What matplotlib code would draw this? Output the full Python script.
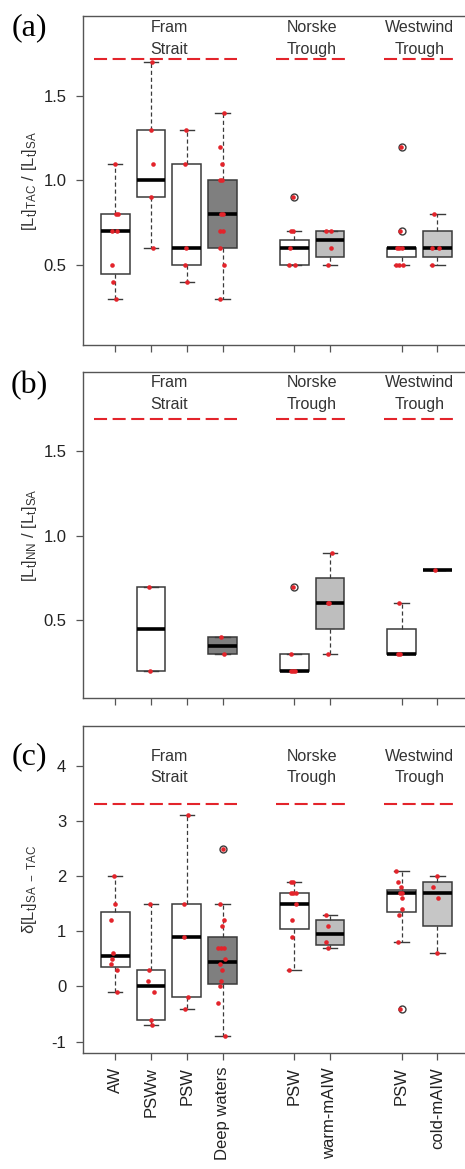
import numpy as np
import matplotlib.pyplot as plt

plt.rcParams['font.family'] = ['Liberation Sans', 'DejaVu Sans']
plt.rcParams['mathtext.fontset'] = 'custom'
plt.rcParams['mathtext.rm'] = 'Liberation Sans'
plt.rcParams['mathtext.it'] = 'Liberation Sans:italic'
plt.rcParams['mathtext.bf'] = 'Liberation Sans:bold'
plt.rcParams['lines.scale_dashes'] = False

positions = [1, 2, 3, 4, 6, 7, 9, 10]
water_masses = ['AW', 'PSWw', 'PSW', 'Deep waters', 'PSW', 'warm-mAIW', 'PSW', 'cold-mAIW']
box_fill = ['white', 'white', 'white', '#7f7f7f', 'white', '#bebebe', 'white', '#c6c6c6']
regions = ['Fram\nStrait', 'Norske\nTrough', 'Westwind\nTrough']
region_centres = [2.5, 6.5, 9.5]
region_spans = [(0.4, 4.4), (5.5, 7.5), (8.5, 10.5)]

# (whislo, q1, median, q3, whishi) per water mass
tac_stats = [(0.3, 0.45, 0.7, 0.8, 1.1), (0.6, 0.9, 1.0, 1.3, 1.7),
             (0.4, 0.5, 0.6, 1.1, 1.3), (0.3, 0.6, 0.8, 1.0, 1.4),
             (0.5, 0.5, 0.6, 0.65, 0.7), (0.5, 0.55, 0.65, 0.7, 0.7),
             (0.5, 0.55, 0.6, 0.6, 0.6), (0.5, 0.55, 0.6, 0.7, 0.8)]
tac_fliers = [[], [], [], [], [0.9], [], [0.7, 1.2], []]
tac_points = [[1.1, 0.8, 0.8, 0.7, 0.7, 0.5, 0.4, 0.3],
              [1.7, 1.3, 1.1, 0.9, 0.6],
              [1.3, 1.1, 0.6, 0.5, 0.4],
              [1.4, 1.2, 1.1, 1.0, 1.0, 0.8, 0.8, 0.7, 0.7, 0.6, 0.5, 0.3],
              [0.9, 0.7, 0.7, 0.6, 0.5, 0.5],
              [0.7, 0.7, 0.6, 0.5],
              [1.2, 0.7, 0.6, 0.6, 0.6, 0.5, 0.5, 0.5],
              [0.8, 0.6, 0.6, 0.5]]
tac_jitter = [[0.0, 0.03, 0.08, -0.09, 0.05, -0.09, -0.06, 0.03],
              [0.02, 0.0, 0.05, 0.0, 0.05],
              [-0.01, -0.06, -0.03, -0.04, 0.01],
              [0.03, -0.08, -0.01, -0.08, -0.01, -0.05, 0.02, -0.08, 0.02, -0.06, 0.03, -0.08],
              [-0.02, -0.09, -0.03, -0.12, -0.14, 0.03],
              [-0.12, 0.02, 0.02, -0.05],
              [-0.03, -0.05, -0.13, -0.08, 0.0, -0.17, -0.06, 0.03],
              [-0.09, -0.16, 0.05, -0.16]]

nn_stats = [None, (0.2, 0.2, 0.45, 0.7, 0.7), None, (0.3, 0.3, 0.35, 0.4, 0.4),
            (0.2, 0.2, 0.2, 0.3, 0.3), (0.3, 0.45, 0.6, 0.75, 0.9),
            (0.3, 0.3, 0.3, 0.45, 0.6), (0.8, 0.8, 0.8, 0.8, 0.8)]
nn_fliers = [[], [], [], [], [0.7], [], [], []]
nn_points = [[], [0.7, 0.2], [], [0.4, 0.3], [0.7, 0.3, 0.2, 0.2, 0.2],
             [0.9, 0.6, 0.6, 0.3], [0.6, 0.3, 0.3], [0.8]]
nn_jitter = [[], [-0.06, -0.03], [], [-0.04, 0.03], [-0.03, -0.09, -0.09, -0.03, 0.03],
             [0.05, -0.06, -0.04, -0.06], [-0.08, -0.1, -0.05], [-0.08]]

delta_stats = [(-0.1, 0.35, 0.55, 1.35, 2.0), (-0.7, -0.6, 0.0, 0.3, 1.5),
               (-0.4, -0.2, 0.9, 1.5, 3.1), (-0.9, 0.05, 0.45, 0.9, 1.5),
               (0.3, 1.05, 1.5, 1.7, 1.9), (0.7, 0.75, 0.95, 1.2, 1.3),
               (0.8, 1.35, 1.7, 1.75, 2.1), (0.6, 1.1, 1.7, 1.9, 2.0)]
delta_fliers = [[], [], [], [2.5], [], [], [-0.4], []]
delta_points = [[2.0, 1.5, 1.2, 0.6, 0.5, 0.4, 0.3, -0.1],
                [1.5, 0.3, 0.1, -0.1, -0.6, -0.7],
                [3.1, 1.5, 0.9, -0.2, -0.4],
                [2.5, 1.5, 1.2, 1.1, 0.7, 0.7, 0.7, 0.5, 0.4, 0.3, 0.1, 0.0, -0.3, -0.9],
                [1.9, 1.9, 1.7, 1.7, 1.7, 1.5, 1.2, 0.9, 0.3],
                [1.3, 1.1, 0.8, 0.7],
                [2.1, 1.9, 1.8, 1.7, 1.7, 1.6, 1.4, 1.3, 0.8, -0.4],
                [2.0, 1.8, 1.6, 0.6]]
delta_jitter = [[-0.03, 0.0, -0.11, -0.06, -0.09, -0.11, 0.05, 0.06],
                [-0.03, -0.05, -0.09, 0.08, 0.0, 0.04],
                [0.02, -0.07, -0.07, 0.02, -0.06],
                [0.01, -0.06, 0.05, -0.01, -0.14, -0.04, 0.05, 0.08, -0.08, -0.03, -0.04, -0.08, -0.13, 0.07],
                [-0.09, -0.02, -0.09, -0.03, 0.05, 0.05, -0.06, -0.06, -0.14],
                [-0.12, -0.05, -0.1, -0.06],
                [-0.15, -0.1, -0.02, -0.05, 0.01, 0.0, 0.0, -0.08, -0.1, -0.04],
                [-0.02, -0.13, 0.03, -0.02]]

ref_levels = [1.72, 1.69, 3.3]

RED = '#e3242b'
EDGE = '#3a3a3a'
AXC = '#555555'


def draw_panel(ax, stats, fliers, points, jitter, ref, label_y):
    keep = [i for i, s in enumerate(stats) if s is not None]
    bstats = [dict(whislo=stats[i][0], q1=stats[i][1], med=stats[i][2],
                   q3=stats[i][3], whishi=stats[i][4], fliers=fliers[i]) for i in keep]
    art = ax.bxp(bstats, positions=[positions[i] for i in keep], widths=0.8,
                 capwidths=0.4, patch_artist=True,
                 boxprops=dict(edgecolor=EDGE, linewidth=1.1),
                 medianprops=dict(color='black', linewidth=2.6, solid_capstyle='butt'),
                 whiskerprops=dict(color=EDGE, linewidth=0.9, linestyle=(0, (3, 2))),
                 capprops=dict(color=EDGE, linewidth=1.0),
                 flierprops=dict(marker='o', markerfacecolor='none',
                                 markeredgecolor=EDGE, markersize=5, markeredgewidth=1.0))
    for patch, i in zip(art['boxes'], keep):
        patch.set_facecolor(box_fill[i])

    for p, vals, jit in zip(positions, points, jitter):
        if vals:
            ax.plot(np.array(jit) + p, vals, 'o', color=RED, markersize=3.3,
                    markeredgewidth=0, zorder=4)

    for (x0, x1) in region_spans:
        ax.plot([x0, x1], [ref, ref], color=RED, linewidth=1.5,
                linestyle=(0, (9.4, 4.0)), zorder=3)
    for name, xc in zip(regions, region_centres):
        ax.text(xc, label_y, name, ha='center', va='center', fontsize=11.5,
                linespacing=1.55, color='#333333')

    ax.set_xlim(0.1, 10.9)
    ax.set_xticks(positions)
    ax.spines['right'].set_visible(False)
    for s in ['left', 'top', 'bottom']:
        ax.spines[s].set_color(AXC)
        ax.spines[s].set_linewidth(1.0)
    ax.tick_params(axis='both', direction='out', length=5, width=0.9,
                   color=AXC, labelsize=12, labelcolor='#222222')
    ax.tick_params(axis='y', pad=7)
    ax.tick_params(axis='x', pad=5)


fig = plt.figure(figsize=(4.65, 11.69), dpi=100)
left = 83 / 465
width = (469.6 - 83) / 465
ax_a = fig.add_axes([left, 1 - 345 / 1169, width, 329 / 1169])
ax_b = fig.add_axes([left, 1 - 698 / 1169, width, 326 / 1169])
ax_c = fig.add_axes([left, 1 - 1053 / 1169, width, 327 / 1169])

draw_panel(ax_a, tac_stats, tac_fliers, tac_points, tac_jitter, ref_levels[0], 1.84)
draw_panel(ax_b, nn_stats, nn_fliers, nn_points, nn_jitter, ref_levels[1], 1.84)
draw_panel(ax_c, delta_stats, delta_fliers, delta_points, delta_jitter, ref_levels[2], 3.98)

ax_a.set_ylim(0.028, 1.972)
ax_b.set_ylim(0.042, 1.966)
ax_c.set_ylim(-1.206, 4.72)
for ax in (ax_a, ax_b):
    ax.set_yticks([0.5, 1.0, 1.5], ['0.5', '1.0', '1.5'])
    ax.set_xticklabels([])
ax_c.set_yticks([-1, 0, 1, 2, 3, 4], ['-1', '0', '1', '2', '3', '4'])
ax_c.set_xticklabels(water_masses, rotation=90, va='top')

ax_a.set_ylabel(r'[L$_\mathrm{t}$]$_\mathrm{TAC}$ / [L$_\mathrm{t}$]$_\mathrm{SA}$', fontsize=12, color='#333333')
ax_b.set_ylabel(r'[L$_\mathrm{t}$]$_\mathrm{NN}$ / [L$_\mathrm{t}$]$_\mathrm{SA}$', fontsize=12, color='#333333')
ax_c.set_ylabel(r'δ[L$_\mathrm{t}$]$_\mathrm{SA\ -\ TAC}$', fontsize=12, color='#333333')
for ax in (ax_a, ax_b, ax_c):
    ax.yaxis.set_label_coords(-0.115, 0.5)

for lab, yp in zip(['(a)', '(b)', '(c)'], [28, 386, 757]):
    fig.text(29 / 465, 1 - yp / 1169, lab, family=['Liberation Serif', 'DejaVu Serif'],
             fontsize=23, ha='center', va='center')

fig.savefig('out.png', dpi=100)
